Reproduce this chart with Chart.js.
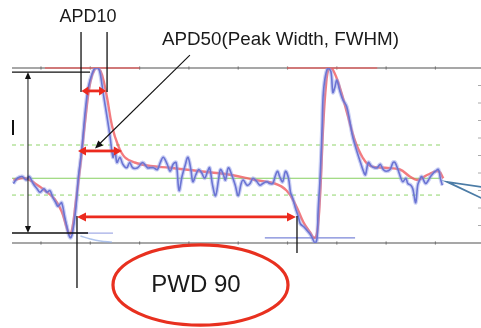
<!DOCTYPE html>
<html><head><meta charset="utf-8">
<script src="https://cdn.jsdelivr.net/npm/chart.js@4/dist/chart.umd.min.js"></script>
<style>html,body{margin:0;padding:0;background:#fff}#wrap{width:481px;height:328px}</style>
</head><body><div id="wrap"><canvas id="c" width="481" height="328"></canvas></div>
<script>
// time (ms) and amplitude (% of peak)
const tBlue=[-28,-24,-19,-15,-12,-8,-4,-1,3,6,9,12,15,17,19,21,24,26,28,30,32,35,38,40,42,45,48,52,55,58,60,63,67,70,73,75,77,80,83,87,90,93,98,103,108,111,114,118,121,124,128,131,134,137,140,143,146,149,152,154,157,160,163,166,169,171,174,177,180,182,185,187,190,194,197,200,203,205,209,212,215,219,222,225,229,232,235,238,240,242,245,248,251,253,255,258,261,263,267,270,273,275,278,280,281,283,285,286,288,291,294,296,298,300,303,306,310,313,316,320,324,327,329,332,335,338,341,344,347,350,354,357,359,362,365,367,370,372,375,377,380,382,384,386,390,393,395,398,400,403,405,407];
const vBlue=[34,37,38,36,38,34,31,29,31,29,30,26,23,21,22,23,15,10,5,3,6,18,38,47,57,76,89,97,100,100,97,86,72,61,49,53,46,49,45,43,46,43,43,46,43,43,43,42,46,49,45,41,45,46,30,38,44,49,42,35,39,42,40,37,41,43,33,27,36,42,39,36,43,38,33,27,34,36,33,34,37,35,33,34,35,34,34,39,41,38,35,41,37,29,26,20,15,11,9,7,5,3,0,3,18,37,65,83,94,100,98,86,89,93,87,82,78,70,61,53,46,41,39,46,44,43,43,45,42,41,42,46,46,42,37,35,37,34,33,31,23,33,36,38,34,36,38,40,41,42,37,33];
const tRed=[-28,-16,-6,4,14,21,26,29,32,35,40,45,50,55,58,62,67,72,78,85,95,111,131,161,192,217,237,249,258,266,273,277,280,283,286,289,292,296,303,311,318,326,334,349,364,374,382,392,403,408];
const vRed=[36,37,34,30,25,18,9,5,9,22,45,71,92,100,100,96,83,67,56,49,46,44,43,41,39,36,34,30,22,12,6,3,6,27,65,90,100,99,89,73,59,49,44,43,42,38,36,39,41,37];
const tGhost=[40,50,60,72];
const vGhost=[4,2.3,1.1,0.5];
const xTicks=[0,50,100,150,200,250,300,350,400];
const yRightTicks=[10,20,30,40,50,60,70,80,90];
const greenDashed=[56,27.4];
const greenSolid=[37];
const labels={apd10:'APD10',apd50:'APD50(Peak Width, FWHM)',pwd:'PWD 90'};

function pts(t,v){return t.map((x,i)=>({x:x,y:v[i]}));}

const overlay={
  id:'overlay',
  beforeDatasetsDraw(chart){
    const c=chart.ctx,xs=chart.scales.x,ys=chart.scales.y;
    const X=v=>xs.getPixelForValue(v),Y=v=>ys.getPixelForValue(v);
    c.save();
    c.lineWidth=1;
    c.strokeStyle='#8fd46a';
    c.setLineDash([4,4]);
    greenDashed.forEach(l=>{c.beginPath();c.moveTo(X(-29.4),Y(l));c.lineTo(X(405),Y(l));c.stroke();});
    c.setLineDash([]);
    c.strokeStyle='#86d060';
    greenSolid.forEach(l=>{c.beginPath();c.moveTo(X(-29.4),Y(l));c.lineTo(X(405),Y(l));c.stroke();});
    c.strokeStyle='#8a8a8a';c.lineWidth=1.5;
    [0,100].forEach(l=>{c.beginPath();c.moveTo(chart.chartArea.left,Y(l));c.lineTo(chart.chartArea.right,Y(l));c.stroke();});
    c.strokeStyle='#777';c.lineWidth=1.2;
    xTicks.forEach(t=>{[0,100].forEach(l=>{c.beginPath();c.moveTo(X(t),Y(l)-1.5);c.lineTo(X(t),Y(l)+1.5);c.stroke();});});
    c.strokeStyle='#aaa';c.lineWidth=1;
    yRightTicks.forEach(l=>{c.beginPath();c.moveTo(chart.chartArea.right-3,Y(l));c.lineTo(chart.chartArea.right,Y(l));c.stroke();});
    c.strokeStyle='#a3ace6';c.lineWidth=1.2;
    c.beginPath();c.moveTo(X(36.5),Y(5.7));c.lineTo(X(73),Y(5.7));c.stroke();
    c.strokeStyle='#7b86d8';
    c.beginPath();c.moveTo(X(227),Y(2.9));c.lineTo(X(318.5),Y(2.9));c.stroke();
    c.strokeStyle='rgba(236,90,90,0.8)';c.lineWidth=1.5;
    c.beginPath();c.moveTo(X(4),Y(100));c.lineTo(X(100),Y(100));c.stroke();
    c.beginPath();c.moveTo(X(249.5),Y(100));c.lineTo(X(341),Y(100));c.stroke();
    c.restore();
  },
  afterDatasetsDraw(chart){
    const c=chart.ctx,xs=chart.scales.x,ys=chart.scales.y;
    const X=v=>xs.getPixelForValue(v),Y=v=>ys.getPixelForValue(v);
    function head(x1,y1,x2,y2,len,w,col){
      const a=Math.atan2(y2-y1,x2-x1);
      c.fillStyle=col;c.beginPath();
      c.moveTo(x2,y2);
      c.lineTo(x2-len*Math.cos(a)+w*Math.sin(a),y2-len*Math.sin(a)-w*Math.cos(a));
      c.lineTo(x2-len*Math.cos(a)-w*Math.sin(a),y2-len*Math.sin(a)+w*Math.cos(a));
      c.closePath();c.fill();
    }
    function line(x1,y1,x2,y2,col,w){c.strokeStyle=col;c.lineWidth=w;c.beginPath();c.moveTo(x1,y1);c.lineTo(x2,y2);c.stroke();}
    function dbl(x1,y1,x2,y2,col,w,len,hw){
      const a=Math.atan2(y2-y1,x2-x1);
      line(x1+len*0.8*Math.cos(a),y1+len*0.8*Math.sin(a),x2-len*0.8*Math.cos(a),y2-len*0.8*Math.sin(a),col,w);
      head(x2,y2,x1,y1,len,hw,col);head(x1,y1,x2,y2,len,hw,col);
    }
    c.save();
    const K='#111',R='#ec2a1e';
    line(X(40.6),Y(120.6),X(40.6),Y(86.3),K,1.3);
    line(X(67),Y(120.6),X(67),Y(86.3),K,1.3);
    dbl(X(41),Y(86.9),X(66),Y(86.9),R,2.8,7,4.5);
    dbl(X(37.5),Y(52.6),X(82),Y(52.6),R,2.8,8,4.5);
    line(X(151),Y(107.4),X(60),Y(57),K,1.1);
    head(X(151),Y(107.4),X(54.8),Y(54),8,3.5,K);
    line(X(-29.4),Y(97.7),X(49.7),Y(97.7),K,1.3);
    line(X(-29.4),Y(5.7),X(47.7),Y(5.7),K,1.5);
    line(X(-13.2),Y(95),X(-13.2),Y(8.4),K,1);
    head(X(-13.2),Y(50),X(-13.2),Y(97.7),7,3,K);
    head(X(-13.2),Y(50),X(-13.2),Y(5.7),7,3,K);
    line(X(-28.4),Y(70.3),X(-28.4),Y(61.7),K,2);
    line(X(36.5),Y(15.4),X(36.5),Y(-25.7),K,1.3);
    line(X(259.6),Y(15.4),X(259.6),Y(-5.7),K,1.3);
    dbl(X(36.5),Y(14.9),X(258.6),Y(14.9),R,2.8,9,4.5);
    c.strokeStyle='#4c7ca6';c.lineWidth=1.8;
    c.beginPath();c.moveTo(X(446.5),Y(32));c.lineTo(X(412),Y(34.9));c.lineTo(X(446.5),Y(25.7));c.stroke();
    const ex1=X(73),ex2=X(250.5),ey1=Y(-1.1),ey2=Y(-46.9);
    c.strokeStyle='#e8301f';c.lineWidth=3.2;
    c.beginPath();c.ellipse((ex1+ex2)/2,(ey1+ey2)/2,(ex2-ex1)/2,(ey2-ey1)/2,0,0,Math.PI*2);c.stroke();
    c.fillStyle='#1a1a1a';c.textBaseline='middle';
    c.font='18px "Liberation Sans", Arial, sans-serif';
    c.textAlign='center';c.fillText(labels.apd10,X(47.7),Y(129));
    c.font='18.8px "Liberation Sans", Arial, sans-serif';
    c.textAlign='left';c.fillText(labels.apd50,X(122.7),Y(116));
    c.font='24px "Liberation Sans", Arial, sans-serif';
    c.textAlign='center';c.fillText(labels.pwd,X(157.2),Y(-24));
    c.restore();
  }
};

new Chart(document.getElementById('c'),{
  type:'line',
  data:{datasets:[
    {data:pts(tGhost,vGhost),borderColor:'rgba(140,170,230,0.7)',borderWidth:1.5,pointRadius:0,tension:0.4},
    {data:pts(tBlue,vBlue),borderColor:'rgba(140,150,230,0.45)',borderWidth:4,pointRadius:0,tension:0.35},
    {data:pts(tBlue,vBlue),borderColor:'#5058c4',borderWidth:1.6,pointRadius:0,tension:0.35},
    {data:pts(tRed,vRed),borderColor:'rgba(240,90,95,0.8)',borderWidth:2.4,pointRadius:0,tension:0.4}
  ]},
  options:{
    responsive:false,animation:false,events:[],
    layout:{padding:{left:12,right:0,top:68,bottom:85}},
    scales:{
      x:{type:'linear',min:-29.4,max:446.2,display:false},
      y:{type:'linear',min:0,max:100,display:false}
    },
    plugins:{legend:{display:false},tooltip:{enabled:false}},
    elements:{point:{radius:0},line:{capBezierPoints:true}}
  },
  plugins:[overlay]
});
</script></body></html>
